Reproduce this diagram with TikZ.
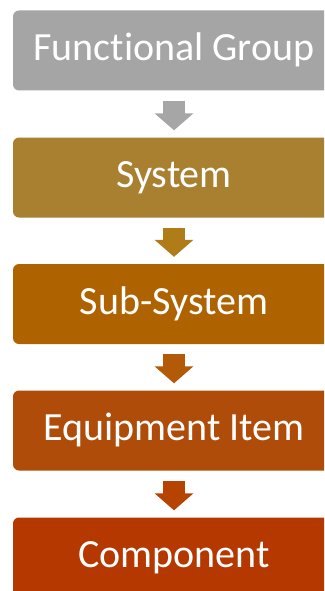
\documentclass[tikz,border=0pt]{standalone}
\usepackage{fontspec}
\setmainfont[Ligatures=NoCommon]{Carlito}
\usetikzlibrary{arrows.meta}
\definecolor{c1}{HTML}{A5A5A5}
\definecolor{c2}{HTML}{A88030}
\definecolor{c3}{HTML}{AE6200}
\definecolor{c4}{HTML}{B04C0A}
\definecolor{c5}{HTML}{B43800}
\definecolor{a1}{HTML}{A6A6A6}
\definecolor{a2}{HTML}{B07C18}
\definecolor{a3}{HTML}{B25A08}
\definecolor{a4}{HTML}{B64300}
\tikzset{
  levelbox/.style={fill=#1, draw=none, rounded corners=6pt, minimum width=322pt,
    minimum height=80pt, text=white, inner sep=0pt,
    font=\fontsize{40}{48}\selectfont, text height=27pt, text depth=7pt},
  blockarrow/.style={draw=#1, line width=22pt, line cap=butt,
    -{Triangle[width=38pt,length=17pt,fill=#1]}, shorten <=10pt, shorten >=7pt}
}
\begin{document}
\begin{tikzpicture}[x=1pt,y=1pt]
\useasboundingbox (0,0) rectangle (324,-591);
\clip (0,0) rectangle (324,-591);
\fill[white] (0,0) rectangle (324,-591);
\node[levelbox=c1] (b1) at (174,-50.5) {Functional Group};
\node[levelbox=c2] (b2) at (174,-177.5) {System};
\node[levelbox=c3] (b3) at (174,-304) {Sub-System};
\node[levelbox=c4] (b4) at (174,-430.5) {Equipment Item};
\node[levelbox=c5] (b5) at (174,-557.5) {Component};
\draw[blockarrow=a1] (b1) -- (b2);
\draw[blockarrow=a2] (b2) -- (b3);
\draw[blockarrow=a3] (b3) -- (b4);
\draw[blockarrow=a4] (b4) -- (b5);
\end{tikzpicture}
\end{document}
